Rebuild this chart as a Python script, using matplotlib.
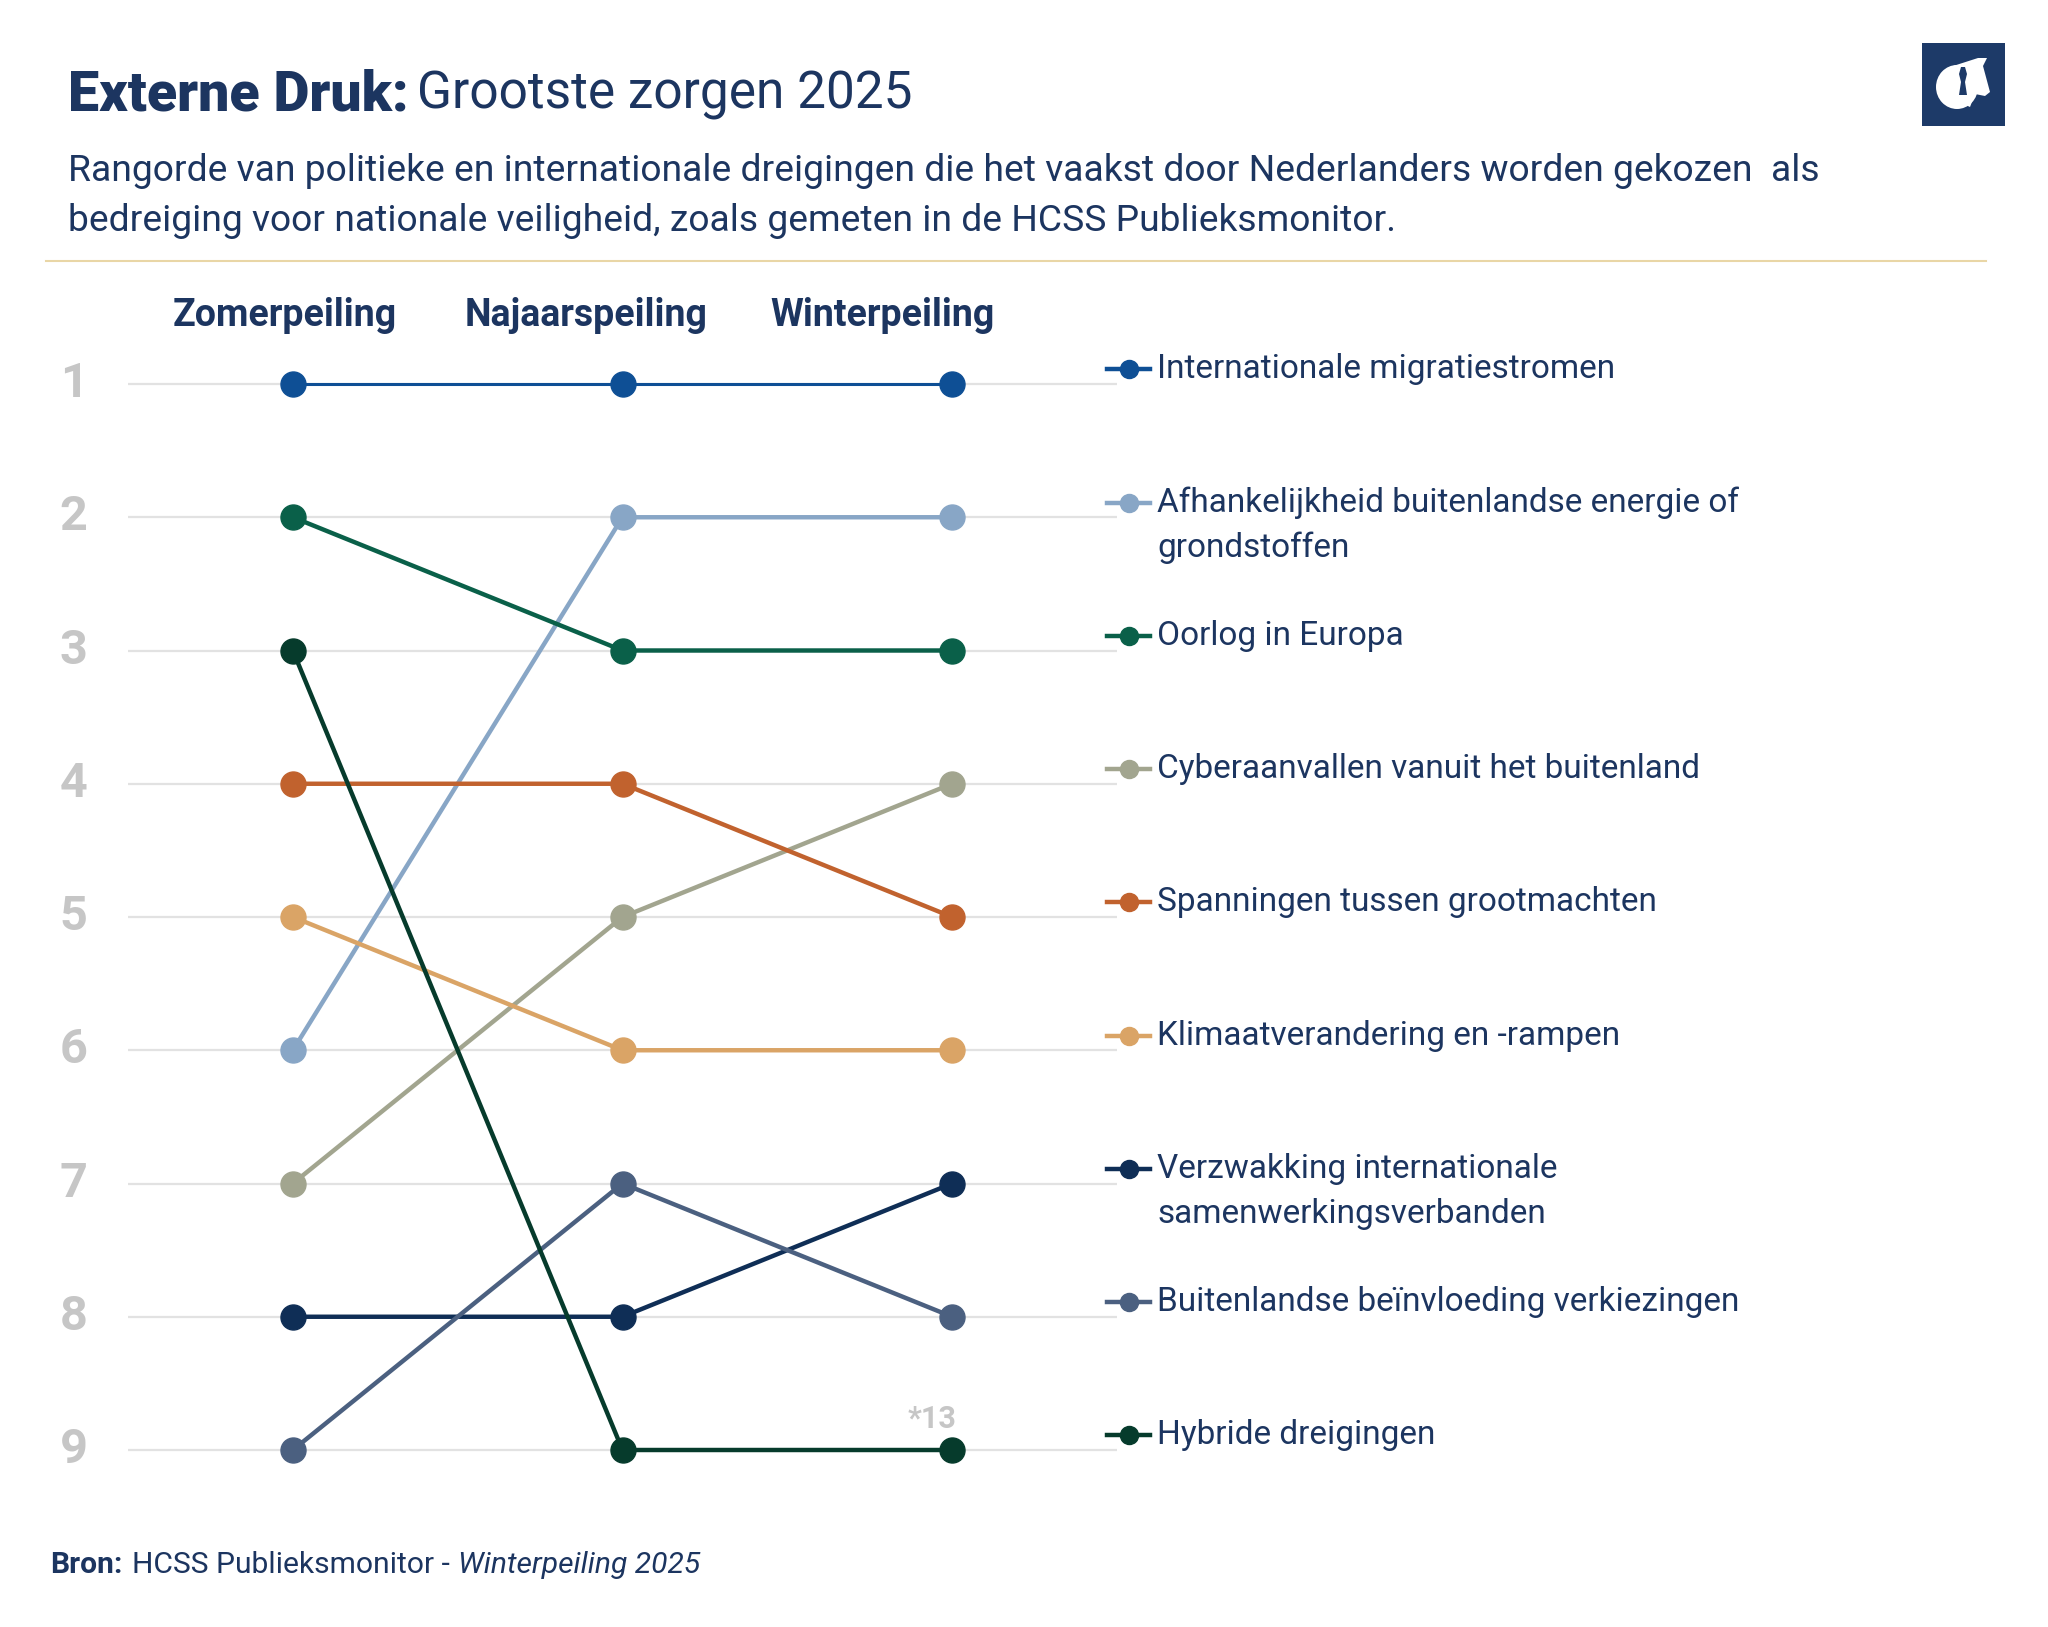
import matplotlib
matplotlib.use("Agg")
import matplotlib.pyplot as plt
from matplotlib.patches import Rectangle, Ellipse, Polygon
from matplotlib.lines import Line2D

# ---------------- data ----------------
waves = ["Zomerpeiling", "Najaarspeiling", "Winterpeiling"]
rank_ticks = [1, 2, 3, 4, 5, 6, 7, 8, 9]

series_names = [
    "Internationale migratiestromen",
    "Afhankelijkheid buitenlandse energie of\ngrondstoffen",
    "Oorlog in Europa",
    "Cyberaanvallen vanuit het buitenland",
    "Spanningen tussen grootmachten",
    "Klimaatverandering en -rampen",
    "Verzwakking internationale\nsamenwerkingsverbanden",
    "Buitenlandse beïnvloeding verkiezingen",
    "Hybride dreigingen",
]
migratie = [1, 1, 1]
afhankelijkheid = [6, 2, 2]
oorlog = [2, 3, 3]
cyber = [7, 5, 4]
spanningen = [4, 4, 5]
klimaat = [5, 6, 6]
verzwakking = [8, 8, 7]
beinvloeding = [9, 7, 8]
hybride = [3, 9, 9]
series_ranks = [migratie, afhankelijkheid, oorlog, cyber, spanningen,
                klimaat, verzwakking, beinvloeding, hybride]
series_colors = ["#0e4f95", "#88a6c6", "#0a6049", "#a2a58f", "#c1622e",
                 "#daa466", "#0f2e56", "#4b6080", "#063b2c"]
footnote = "*13"

NAVY = "#1c3560"
GREY = "#c6c6c6"
FONT = "Roboto"

W, H = 2048, 1627
fig = plt.figure(figsize=(W / 100, H / 100), dpi=100)
fig.patch.set_facecolor("white")

def fx(px):
    return px / W

def fy(py):
    return 1 - py / H

# ---------------- axes ----------------
col_px = [293, 623, 952]
colsp = (col_px[2] - col_px[0]) / 2.0
row1_px, row9_px = 384, 1450
sp = (row9_px - row1_px) / 8.0
ylo, yhi = 0.3, 9.7
top_px = row1_px - (1 - ylo) * sp
bot_px = row9_px + (yhi - 9) * sp
left_px, right_px = 128, 1117
ax = fig.add_axes([fx(left_px), fy(bot_px), (right_px - left_px) / W, (bot_px - top_px) / H])
ax.set_xlim(-0.5, 2.5)
ax.set_ylim(yhi, ylo)
for s in ax.spines.values():
    s.set_visible(False)
ax.set_xticks([])
ax.set_yticks(rank_ticks)
ax.set_yticklabels([])
ax.tick_params(axis="y", length=0)
ax.grid(axis="y", color="#e2e2e2", lw=1.6)
ax.set_axisbelow(True)

label_x = (74 - col_px[0]) / colsp
for r in rank_ticks:
    ax.text(label_x, r, str(r), ha="center", va="center", fontsize=35,
            fontweight="bold", color=GREY, family=FONT, clip_on=False)

xs = list(range(len(waves)))
for i, (ranks, c) in enumerate(zip(series_ranks, series_colors)):
    lw = 2.2 if i == 0 else 3.2
    ax.plot(xs, ranks, color=c, lw=lw, marker="o", ms=18, zorder=3 + i,
            solid_capstyle="round")

# column headers
header_x_px = [285, 586, 882]
for name, hx in zip(waves, header_x_px):
    fig.text(fx(hx), fy(316), name, ha="center", va="center", fontsize=27,
             fontweight="bold", color=NAVY, family=FONT)

# footnote
ax.text(1.94, 9 - 0.23, footnote, ha="center", va="center", fontsize=22,
        fontweight="bold", color=GREY, family=FONT)

# ---------------- legend ----------------
leg_x0 = (1107 - col_px[0]) / colsp
leg_x1 = (1150 - col_px[0]) / colsp
leg_xt = (1157 - col_px[0]) / colsp
for name, ranks, c in zip(series_names, series_ranks, series_colors):
    y = ranks[-1] - 0.11
    ax.add_line(Line2D([leg_x0, leg_x1], [y, y], color=c, lw=3.2, clip_on=False))
    ax.plot([(leg_x0 + leg_x1) / 2], [y], marker="o", ms=13, color=c, clip_on=False)
    for k, line in enumerate(name.split("\n")):
        ax.text(leg_xt, y + k * 45 / sp, line, ha="left", va="center", fontsize=24,
                color=NAVY, family=FONT, clip_on=False)

# ---------------- title / subtitle ----------------
renderer = fig.canvas.get_renderer()
t1 = fig.text(fx(68), fy(95), "Externe Druk:", ha="left", va="center", fontsize=40,
              fontweight="black", color=NAVY, family=FONT)
bb = t1.get_window_extent(renderer)
fig.text(bb.x1 / W + fx(8), fy(95), "Grootste zorgen 2025", ha="left", va="center",
         fontsize=37, color=NAVY, family=FONT)

fig.text(fx(68), fy(171), "Rangorde van politieke en internationale dreigingen die het vaakst door Nederlanders worden gekozen  als",
         ha="left", va="center", fontsize=26.8, color=NAVY, family=FONT)
fig.text(fx(68), fy(221), "bedreiging voor nationale veiligheid, zoals gemeten in de HCSS Publieksmonitor.",
         ha="left", va="center", fontsize=26.8, color=NAVY, family=FONT)

fig.add_artist(Line2D([fx(46), fx(1986)], [fy(261), fy(261)], color="#e9d6a6", lw=1.5))

# ---------------- source ----------------
s1 = fig.text(fx(50), fy(1565), "Bron:", ha="left", va="center", fontsize=21.6,
              fontweight="bold", color=NAVY, family=FONT)
bb = s1.get_window_extent(renderer)
s2 = fig.text(bb.x1 / W + fx(10), fy(1565), "HCSS Publieksmonitor - ", ha="left", va="center",
              fontsize=21.6, color=NAVY, family=FONT)
bb = s2.get_window_extent(renderer)
fig.text(bb.x1 / W, fy(1565), "Winterpeiling 2025", ha="left", va="center",
         fontsize=21.6, style="italic", color=NAVY, family=FONT)

# ---------------- logo ----------------
lx0, ly0, lx1, ly1 = 1922, 43, 2005, 126
fig.add_artist(Rectangle((fx(lx0), fy(ly1)), fx(lx1 - lx0), (ly1 - ly0) / H,
                         facecolor="#1d3a68", edgecolor="none"))
fig.add_artist(Ellipse((fx(1957), fy(87)), fx(42), 44 / H, facecolor="white", edgecolor="none"))
fig.add_artist(Polygon([(fx(1950), fy(67)), (fx(1978), fy(58)), (fx(1987), fy(58)),
                        (fx(1983), fy(66)), (fx(1990), fy(92)), (fx(1985), fy(96)),
                        (fx(1975), fy(94)), (fx(1970), fy(107)), (fx(1955), fy(100))],
                       closed=True, facecolor="white", edgecolor="none"))
fig.add_artist(Polygon([(fx(1961), fy(67)), (fx(1965), fy(67)), (fx(1967), fy(74)),
                        (fx(1965), fy(82)), (fx(1967), fy(95)), (fx(1959), fy(95)),
                        (fx(1961), fy(82)), (fx(1959), fy(74))],
                       closed=True, facecolor="#1d3a68", edgecolor="none"))

fig.savefig("out.png", dpi=100, facecolor="white")
